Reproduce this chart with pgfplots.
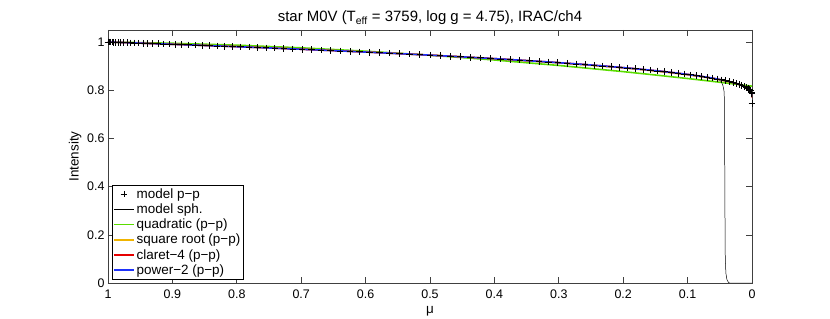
\documentclass[border=0pt]{standalone}
\usepackage{fontspec}
\setmainfont{Liberation Sans}
\usepackage{pgfplots}
\usepackage{pgfplotstable}
\pgfplotsset{compat=1.18}
\definecolor{cgreen}{RGB}{90,220,0}
\definecolor{corange}{RGB}{240,180,0}
\definecolor{cred}{RGB}{230,0,0}
\definecolor{cblue}{RGB}{30,50,250}
\pgfplotstableread{
mu Im Ip Ic
1.00000 1.0000 1.0000 1.0000
0.99976 1.0000 1.0000 1.0000
0.99901 0.9999 0.9999 0.9999
0.99778 0.9998 0.9998 0.9998
0.99606 0.9996 0.9996 0.9996
0.99384 0.9994 0.9994 0.9994
0.99114 0.9992 0.9992 0.9992
0.98796 0.9989 0.9989 0.9989
0.98429 0.9986 0.9986 0.9986
0.98014 0.9982 0.9982 0.9982
0.97553 0.9978 0.9978 0.9978
0.97044 0.9973 0.9973 0.9973
0.96489 0.9968 0.9968 0.9968
0.95888 0.9962 0.9962 0.9962
0.95241 0.9956 0.9956 0.9956
0.94550 0.9950 0.9950 0.9950
0.93815 0.9943 0.9943 0.9943
0.93037 0.9936 0.9936 0.9936
0.92216 0.9928 0.9928 0.9928
0.91354 0.9920 0.9920 0.9920
0.90451 0.9911 0.9911 0.9911
0.89508 0.9902 0.9902 0.9902
0.88526 0.9893 0.9893 0.9893
0.87505 0.9883 0.9883 0.9883
0.86448 0.9873 0.9873 0.9873
0.85355 0.9862 0.9862 0.9862
0.84227 0.9850 0.9850 0.9850
0.83066 0.9839 0.9839 0.9839
0.81871 0.9827 0.9827 0.9827
0.80645 0.9814 0.9814 0.9814
0.79389 0.9801 0.9801 0.9801
0.78104 0.9788 0.9788 0.9788
0.76791 0.9774 0.9774 0.9774
0.75452 0.9760 0.9760 0.9760
0.74087 0.9745 0.9745 0.9745
0.72700 0.9730 0.9730 0.9730
0.71289 0.9715 0.9715 0.9715
0.69857 0.9699 0.9699 0.9699
0.68406 0.9683 0.9683 0.9683
0.66937 0.9666 0.9666 0.9666
0.65451 0.9649 0.9649 0.9649
0.63950 0.9632 0.9632 0.9632
0.62434 0.9614 0.9614 0.9614
0.60907 0.9595 0.9595 0.9595
0.59369 0.9577 0.9577 0.9577
0.57822 0.9558 0.9558 0.9558
0.56266 0.9538 0.9538 0.9538
0.54705 0.9518 0.9518 0.9518
0.53140 0.9498 0.9498 0.9498
0.51570 0.9477 0.9477 0.9477
0.50000 0.9456 0.9456 0.9456
0.48430 0.9434 0.9434 0.9434
0.46860 0.9412 0.9412 0.9412
0.45295 0.9390 0.9390 0.9390
0.43734 0.9367 0.9367 0.9367
0.42178 0.9344 0.9344 0.9344
0.40631 0.9321 0.9321 0.9321
0.39093 0.9297 0.9297 0.9297
0.37566 0.9273 0.9273 0.9273
0.36050 0.9248 0.9248 0.9248
0.34549 0.9223 0.9223 0.9223
0.33063 0.9198 0.9198 0.9198
0.31594 0.9172 0.9172 0.9172
0.30143 0.9146 0.9146 0.9146
0.28711 0.9119 0.9119 0.9119
0.27300 0.9092 0.9092 0.9092
0.25913 0.9065 0.9065 0.9065
0.24548 0.9037 0.9037 0.9037
0.23209 0.9009 0.9009 0.9009
0.21896 0.8980 0.8980 0.8980
0.20611 0.8951 0.8951 0.8951
0.19355 0.8922 0.8922 0.8922
0.18129 0.8893 0.8893 0.8893
0.16934 0.8862 0.8862 0.8862
0.15773 0.8832 0.8832 0.8832
0.14645 0.8801 0.8801 0.8801
0.13552 0.8770 0.8770 0.8770
0.12495 0.8738 0.8738 0.8738
0.11474 0.8706 0.8706 0.8706
0.10492 0.8673 0.8673 0.8673
0.09549 0.8640 0.8640 0.8640
0.08646 0.8606 0.8606 0.8606
0.07784 0.8572 0.8572 0.8572
0.06963 0.8538 0.8538 0.8538
0.06185 0.8503 0.8503 0.8503
0.05450 0.8467 0.8467 0.8467
0.04759 0.8431 0.8431 0.8431
0.04112 0.8394 0.8394 0.8394
0.03511 0.8357 0.8357 0.8357
0.02956 0.8319 0.8319 0.8319
0.02447 0.8281 0.8281 0.8281
0.01986 0.8241 0.8241 0.8241
0.01571 0.8201 0.8201 0.8201
0.01204 0.8159 0.8159 0.8159
0.00886 0.8117 0.8117 0.8114
0.00616 0.8073 0.8073 0.8068
0.00394 0.8027 0.8027 0.8018
0.00222 0.7980 0.7980 0.7965
0.00099 0.7929 0.7929 0.7905
0.00024 0.7850 0.7872 0.7830
0.00000 0.7450 0.7800 0.7700
}\prof
\begin{document}
\begin{tikzpicture}
\useasboundingbox (0,0) rectangle (830bp,319bp);
\begin{axis}[
  at={(108bp,36bp)}, anchor=south west,
  width=644bp, height=253bp, scale only axis,
  x dir=reverse,
  xmin=0, xmax=1, ymin=0, ymax=1.05,
  xtick={0,0.1,0.2,0.3,0.4,0.5,0.6,0.7,0.8,0.9,1},
  xticklabels={0,0.1,0.2,0.3,0.4,0.5,0.6,0.7,0.8,0.9,1},
  ytick={0,0.2,0.4,0.6,0.8,1},
  yticklabels={0,0.2,0.4,0.6,0.8,1},
  tick align=inside,
  major tick length=6.4bp,
  axis line style={black!75, line width=0.6pt},
  every tick/.style={black!75, line width=0.6pt},
  tick label style={font=\fontsize{12.5}{14}\selectfont},
  xticklabel style={yshift=-3bp},
  title={star M0V (T\textsubscript{eff} = 3759, log g = 4.75), IRAC/ch4},
  title style={font=\fontsize{15}{17}\selectfont, yshift=-4bp},
  xlabel={μ},
  ylabel={Intensity},
  label style={font=\fontsize{13.5}{15}\selectfont},
  xlabel style={yshift=-1bp},
  ylabel style={yshift=-1bp},
  legend style={at={(0.006,0.015)}, anchor=south west, draw=black, line width=0.6pt,
     font=\fontsize{13.5}{16}\selectfont, inner sep=1bp, row sep=0bp,
     legend cell align=left},
  legend image code/.code={\draw[mark repeat=2,mark phase=2,#1] plot coordinates {(0bp,0bp) (10bp,0bp) (20bp,0bp)};},
]
\addplot[only marks, mark=+, mark size=3.3bp, line width=0.8pt, black]
  table[x=mu,y=Im]{\prof};
\addlegendentry{model p−p}
\addplot[black, line width=0.5pt] coordinates {
(1.000,1.0000) (0.900,0.9907) (0.800,0.9808) (0.700,0.9701) (0.600,0.9584)
(0.500,0.9456) (0.400,0.9311) (0.300,0.9143) (0.200,0.8937) (0.150,0.8811)
(0.100,0.8656) (0.080,0.8581) (0.065,0.8517) (0.055,0.8470) (0.050,0.8420)
(0.047,0.8320) (0.045,0.8180) (0.0435,0.7980) (0.043,0.7700) (0.0425,0.6000)
(0.042,0.3000) (0.0415,0.1000) (0.0405,0.0400) (0.039,0.0150) (0.037,0.0040)
(0.035,0.0000) (0.000,0.0000)};
\addlegendentry{model sph.}
\addplot[cgreen, line width=1.6pt] coordinates {
(1.00,1.0000) (0.90,0.9950) (0.80,0.9870) (0.70,0.9760) (0.60,0.9621)
(0.50,0.9453) (0.40,0.9255) (0.30,0.9028) (0.20,0.8772) (0.15,0.8632)
(0.10,0.8486) (0.07,0.8394) (0.05,0.8332) (0.03,0.8268) (0.02,0.8236)
(0.01,0.8203) (0.00,0.8170)};
\addlegendentry{quadratic (p−p)}
\addplot[corange, line width=1.6pt] coordinates {
(1.00,1.0000) (0.90,0.9910) (0.80,0.9813) (0.70,0.9707) (0.60,0.9590)
(0.50,0.9460) (0.40,0.9312) (0.30,0.9140) (0.20,0.8929) (0.15,0.8799)
(0.10,0.8642) (0.07,0.8526) (0.05,0.8432) (0.03,0.8316) (0.02,0.8241)
(0.01,0.8143) (0.005,0.8072) (0.002,0.8009) (0.00,0.7900)};
\addlegendentry{square root (p−p)}
\addplot[cred, line width=1.6pt] table[x=mu,y=Ic]{\prof};
\addlegendentry{claret−4 (p−p)}
\addplot[cblue, line width=1.6pt] table[x=mu,y=Ip]{\prof};
\addlegendentry{power−2 (p−p)}
\end{axis}
\end{tikzpicture}
\end{document}
